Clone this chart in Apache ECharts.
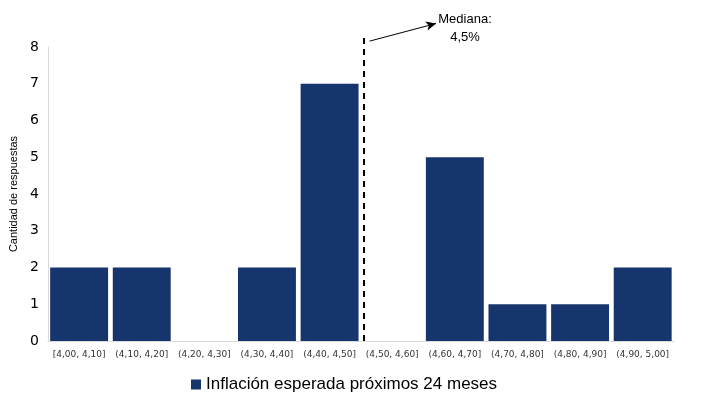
<!DOCTYPE html>
<html><head><meta charset="utf-8">
<script src="https://cdn.jsdelivr.net/npm/echarts@6/dist/echarts.min.js"></script>
<style>html,body{margin:0;padding:0;background:#fff}#c{width:708px;height:394px}</style>
</head><body><div id="c"></div>
<script>
const categories = ['[4,00, 4,10]','(4,10, 4,20]','(4,20, 4,30]','(4,30, 4,40]','(4,40, 4,50]','(4,50, 4,60]','(4,60, 4,70]','(4,70, 4,80]','(4,80, 4,90]','(4,90, 5,00]'];
const counts = [2, 2, 0, 2, 7, 0, 5, 1, 1, 2];
const yTicks = [0,1,2,3,4,5,6,7,8];
const seriesName = 'Inflación esperada próximos 24 meses';
const medianPos = 5.05;        // position of median line in category units
const medianLine = [[medianPos, 0], [medianPos, 8.38]];
const arrowLine = [[5.14, 8.16], [6.2, 8.64]];

const chart = echarts.init(document.getElementById('c'));
chart.setOption({
  animation: false,
  grid: {left: 46, right: 34, top: 47, bottom: 53},
  xAxis: [{
    type: 'category', data: categories,
    axisLine: {show: true, lineStyle: {color: '#d9d9d9'}},
    axisTick: {show: false},
    axisLabel: {fontFamily: 'DejaVu Sans', fontSize: 9, color: '#333', margin: 9, interval: 0}
  }, {
    type: 'value', min: 0, max: 10, show: false
  }],
  yAxis: {
    type: 'value', min: 0, max: 8, interval: 1,
    name: 'Cantidad de respuestas', nameLocation: 'middle', nameGap: 28,
    nameTextStyle: {fontFamily: 'Liberation Sans', fontSize: 11, color: '#000'},
    axisLine: {show: true, lineStyle: {color: '#d9d9d9'}},
    axisTick: {show: false},
    splitLine: {show: false},
    axisLabel: {fontFamily: 'DejaVu Sans', fontSize: 14, color: '#000', margin: 9,
      formatter: v => yTicks.includes(v) ? String(v) : ''}
  },
  legend: {
    top: 371, left: 186, itemWidth: 10, itemHeight: 10, itemGap: 5,
    icon: 'rect',
    data: [seriesName],
    textStyle: {fontFamily: 'Liberation Sans', fontSize: 17, color: '#000'}
  },
  series: [{
    name: seriesName, type: 'bar', data: counts,
    barCategoryGap: '7.5%',
    itemStyle: {color: '#17356d'}
  }, {
    type: 'line', xAxisIndex: 1, data: medianLine, clip: false,
    symbol: 'none', lineStyle: {color: '#000', width: 2, type: [6, 5]},
    silent: true
  }, {
    type: 'line', xAxisIndex: 1, clip: false, silent: true,
    data: [
      {value: arrowLine[0], symbol: 'none'},
      {value: arrowLine[1], symbol: 'arrow', symbolSize: [7, 10], symbolRotate: -75, symbolOffset: [0, 0]}
    ],
    showSymbol: true, showAllSymbol: true,
    itemStyle: {color: '#000'},
    lineStyle: {color: '#000', width: 1}
  }],
  graphic: [{
    type: 'text', x: 465, y: 10,
    style: {text: 'Mediana:\n4,5%', fontFamily: 'Liberation Sans', fontSize: 13, fill: '#000', align: 'center', lineHeight: 18}
  }]
});
</script></body></html>
